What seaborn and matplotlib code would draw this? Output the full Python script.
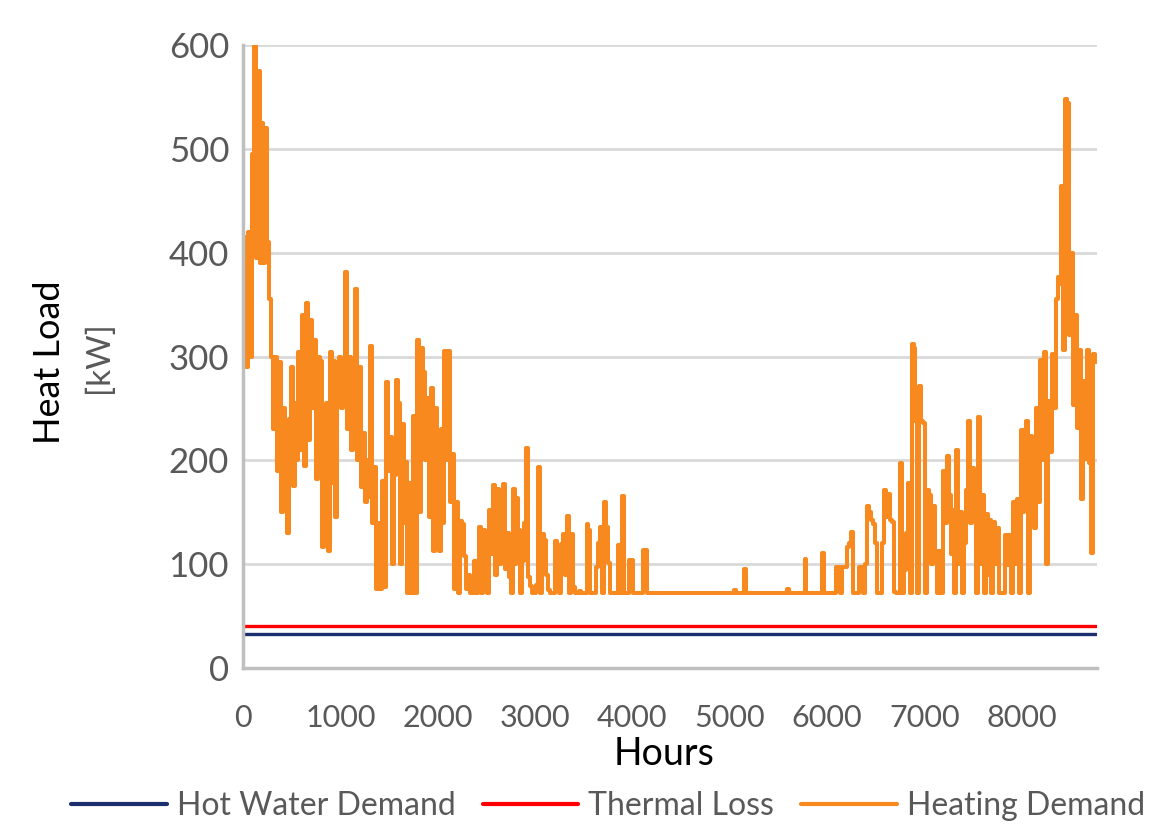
import numpy as np
import pandas as pd
import matplotlib
matplotlib.use("Agg")
import matplotlib.pyplot as plt
import seaborn as sns

# ---------------- data ----------------
step_hours = 20  # spacing of the digitised heating-demand samples
heating_demand = [
    330, 415, 290, 420, 300, 495, 600, 395, 575, 390,   # 0-180
    525, 390, 520, 410, 355, 300, 230, 300, 190, 295,   # 200-380
    150, 250, 190, 130, 240, 290, 175, 255, 200, 304,   # 400-580
    210, 340, 195, 352, 220, 335, 250, 316, 182, 300,   # 600-780
    296, 117, 157, 255, 113, 304, 178, 296, 145, 290,   # 800-980
    300, 250, 296, 381, 230, 300, 210, 280, 365, 200,   # 1000-1180
    290, 174, 226, 160, 200, 165, 310, 140, 194, 76,    # 1200-1380
    140, 76, 180, 78, 275, 190, 222, 100, 186, 277,     # 1400-1580
    255, 100, 235, 140, 198, 72, 178, 72, 243, 72,      # 1600-1780
    316, 150, 308, 285, 200, 260, 145, 270, 113, 250,   # 1800-1980
    200, 113, 230, 140, 305, 200, 305, 160, 206, 76,    # 2000-2180
    160, 72, 142, 139, 108, 76, 90, 72, 72, 103,        # 2200-2380
    72, 80, 136, 72, 133, 101, 72, 152, 110, 176,       # 2400-2580
    90, 172, 100, 166, 177, 95, 130, 88, 72, 172,       # 2600-2780
    100, 164, 133, 72, 103, 140, 212, 88, 79, 72,       # 2800-2980
    72, 80, 194, 72, 129, 123, 90, 75, 72, 72,          # 3000-3180
    72, 122, 85, 72, 119, 129, 90, 146, 72, 129,        # 3200-3380
    78, 72, 72, 74, 72, 72, 72, 139, 133, 72,           # 3400-3580
    72, 72, 97, 120, 136, 72, 160, 136, 101, 72,        # 3600-3780
    72, 72, 72, 118, 72, 166, 72, 72, 72, 104,          # 3800-3980
    104, 72, 72, 72, 72, 72, 114, 114, 72, 72,          # 4000-4180
    72, 72, 72, 72, 72, 72, 72, 72, 72, 72,             # 4200-4380
    72, 72, 72, 72, 72, 72, 72, 72, 72, 72,             # 4400-4580
    72, 72, 72, 72, 72, 72, 72, 72, 72, 72,             # 4600-4780
    72, 72, 72, 72, 72, 72, 72, 72, 72, 72,             # 4800-4980
    72, 72, 72, 75, 72, 72, 72, 72, 95, 72,             # 5000-5180
    72, 72, 72, 72, 72, 72, 72, 72, 72, 72,             # 5200-5380
    72, 72, 72, 72, 72, 72, 72, 72, 72, 72,             # 5400-5580
    76, 72, 72, 72, 72, 72, 72, 72, 72, 105,            # 5600-5780
    72, 72, 72, 72, 72, 72, 72, 72, 111, 72,            # 5800-5980
    72, 72, 72, 72, 72, 97, 97, 72, 97, 97,             # 6000-6180
    97, 117, 120, 131, 72, 72, 72, 97, 97, 72,          # 6200-6380
    100, 156, 150, 143, 139, 120, 72, 72, 72, 120,      # 6400-6580
    171, 145, 168, 143, 141, 73, 72, 72, 197, 72,       # 6600-6780
    94, 130, 178, 72, 312, 308, 238, 72, 272, 238,      # 6800-6980
    236, 72, 171, 167, 100, 156, 113, 72, 113, 72,      # 7000-7180
    190, 140, 204, 167, 110, 152, 72, 210, 100, 150,    # 7200-7380
    72, 120, 171, 238, 140, 193, 145, 72, 242, 100,     # 7400-7580
    167, 72, 148, 90, 143, 72, 141, 100, 135, 72,       # 7600-7780
    72, 72, 128, 99, 128, 72, 160, 100, 163, 72,        # 7800-7980
    229, 150, 190, 238, 72, 223, 165, 135, 250, 160,    # 8000-8180
    297, 200, 304, 100, 257, 208, 302, 250, 355, 377,   # 8200-8380
    370, 464, 306, 548, 544, 321, 400, 253, 340, 231,   # 8400-8580
    306, 163, 276, 201, 306, 197, 111, 302, 295,        # 8600-8760
]
hours = np.arange(len(heating_demand)) * step_hours

flat_hours = [0, 8760]
hot_water_demand = [33, 33]
thermal_loss = [40, 40]

series_names = ["Hot Water Demand", "Thermal Loss", "Heating Demand"]
series_colors = ["#1B2F6E", "#FF0000", "#F7891E"]
x_ticks = [0, 1000, 2000, 3000, 4000, 5000, 6000, 7000, 8000]
y_ticks = [0, 100, 200, 300, 400, 500, 600]

# ---------------- style ----------------
sns.set_theme(style="white")
plt.rcParams["font.family"] = ["Lato", "DejaVu Sans"]

fig = plt.figure(figsize=(11.5, 8.26), dpi=100)
W, H = 1150, 826
ax = fig.add_axes([243 / W, 1 - 668 / H, (1097 - 243) / W, (668 - 45) / H])

df_heat = pd.DataFrame({"Hours": hours, "kW": heating_demand})
df_hw = pd.DataFrame({"Hours": flat_hours, "kW": hot_water_demand})
df_tl = pd.DataFrame({"Hours": flat_hours, "kW": thermal_loss})

sns.lineplot(data=df_hw, x="Hours", y="kW", ax=ax, color=series_colors[0],
             linewidth=2.4, label=series_names[0])
sns.lineplot(data=df_tl, x="Hours", y="kW", ax=ax, color=series_colors[1],
             linewidth=2.4, label=series_names[1])
sns.lineplot(data=df_heat, x="Hours", y="kW", ax=ax, color=series_colors[2],
             linewidth=2.9, drawstyle="steps-mid", label=series_names[2])

ax.set_xlim(0, 8775)
ax.set_ylim(0, 600)
ax.set_xticks(x_ticks)
ax.set_yticks(y_ticks)
ax.set_xticklabels([str(t) for t in x_ticks])
ax.set_yticklabels([str(t) for t in y_ticks])

ax.grid(axis="y", color="#D9D9D9", linewidth=2)
ax.grid(axis="x", visible=False)
ax.set_axisbelow(True)
for s in ["top", "right"]:
    ax.spines[s].set_visible(False)
for s in ["left", "bottom"]:
    ax.spines[s].set_color("#BFBFBF")
    ax.spines[s].set_linewidth(2.5)

ax.tick_params(axis="y", which="major", length=6, width=2, color="#BFBFBF",
               labelsize=25, labelcolor="#595959", pad=4)
ax.tick_params(axis="x", which="major", length=6, width=2, color="#BFBFBF",
               labelsize=22, labelcolor="#595959", pad=20)

ax.set_xlabel("")
ax.set_ylabel("")
fig.text(664 / W, 1 - 754 / H, "Hours", ha="center", va="center",
         fontsize=27, color="black")
fig.text(49 / W, 1 - 362 / H, "Heat Load", ha="center", va="center",
         rotation=90, fontsize=26, color="black")
fig.text(99 / W, 1 - 357 / H, "[kW]", ha="center", va="center",
         rotation=90, fontsize=24, color="#595959")

handles, labels = ax.get_legend_handles_labels()
order = [labels.index(n) for n in series_names]
leg = fig.legend([handles[i] for i in order], [labels[i] for i in order],
                 loc="center", bbox_to_anchor=(608 / W, 1 - 806 / H),
                 ncol=3, frameon=False, fontsize=23, handlelength=3.0,
                 handletextpad=0.3, columnspacing=0.85, borderaxespad=0)
for t in leg.get_texts():
    t.set_color("#595959")
for l in leg.get_lines():
    l.set_linewidth(3)
    l.set_drawstyle("default")
ax.get_legend().remove()

fig.savefig("out.png", dpi=100, facecolor="white")
